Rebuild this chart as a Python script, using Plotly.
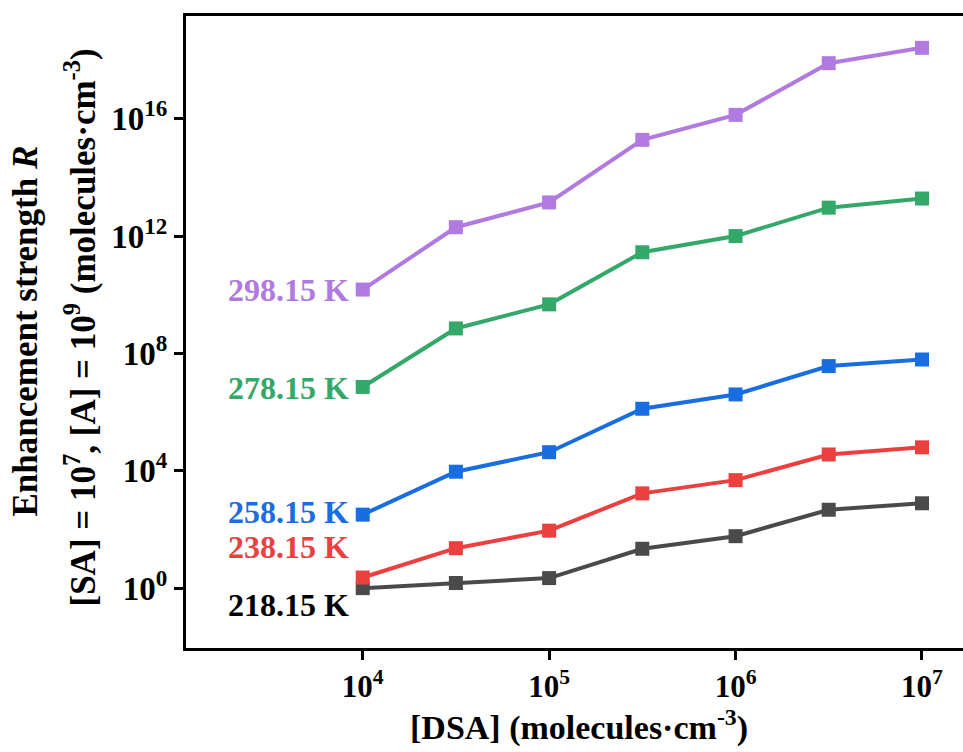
import plotly.graph_objects as go
import math

dsa = [1e4, 3.16e4, 1e5, 3.16e5, 1e6, 3.16e6, 1e7]

temps = ["218.15 K", "238.15 K", "258.15 K", "278.15 K", "298.15 K"]
r_218 = [1.0, 1.5, 2.2, 22, 59, 4.7e2, 7.8e2]
r_238 = [2.3, 23, 91, 1.7e3, 4.8e3, 3.6e4, 6.3e4]
r_258 = [3.2e2, 9.3e3, 4.3e4, 1.3e6, 4.0e6, 3.7e7, 6.2e7]
r_278 = [7.2e6, 7.1e8, 4.7e9, 2.8e11, 1.0e12, 9.3e12, 1.9e13]
r_298 = [1.5e10, 2.0e12, 1.4e13, 1.9e15, 1.35e16, 7.8e17, 2.6e18]

series = [r_218, r_238, r_258, r_278, r_298]
line_colors = ["#4A4A4A", "#EC4040", "#186EE0", "#34A868", "#B07AE0"]
label_colors = ["#000000", "#EC4040", "#186EE0", "#34A868", "#B07AE0"]
label_yshift = [-17, 31, 3, -1, 0]

FONT = "Liberation Serif, Times New Roman, serif"

fig = go.Figure()
for name, vals, c in zip(temps, series, line_colors):
    fig.add_trace(go.Scatter(
        x=dsa, y=vals, mode="lines+markers", name=name,
        line=dict(color=c, width=4),
        marker=dict(symbol="square", size=14, color=c),
        showlegend=False,
    ))

annotations = []
for name, vals, c, ys in zip(temps, series, label_colors, label_yshift):
    annotations.append(dict(
        x=math.log10(dsa[0]), y=math.log10(vals[0]), xref="x", yref="y",
        text=name, showarrow=False, xanchor="right", yanchor="middle",
        xshift=-12, yshift=ys,
        font=dict(family=FONT, size=32, color=c, weight="bold"),
    ))

# axis titles
annotations.append(dict(
    x=(26 - 186) / 777, y=(648 - 331) / 633, xref="paper", yref="paper",
    text="Enhancement strength <i>R</i>", textangle=-90, showarrow=False,
    xanchor="center", yanchor="middle",
    font=dict(family=FONT, size=35, color="black", weight="bold"),
))
annotations.append(dict(
    x=(81 - 186) / 777, y=(648 - 327) / 633, xref="paper", yref="paper",
    text="[SA] = 10<sup>7</sup>, [A] = 10<sup>9</sup> (molecules·cm<sup>-3</sup>)",
    textangle=-90, showarrow=False, xanchor="center", yanchor="middle",
    font=dict(family=FONT, size=35, color="black", weight="bold"),
))
annotations.append(dict(
    x=(579 - 186) / 777, y=(648 - 726) / 633, xref="paper", yref="paper",
    text="[DSA] (molecules·cm<sup>-3</sup>)", showarrow=False,
    xanchor="center", yanchor="middle",
    font=dict(family=FONT, size=34, color="black", weight="bold"),
))

fig.update_layout(
    width=963, height=752,
    margin=dict(l=186, r=0, t=16, b=104),
    plot_bgcolor="white", paper_bgcolor="white",
    annotations=annotations,
    xaxis=dict(
        type="log", range=[3.052, 7.22],
        tickvals=[1e4, 1e5, 1e6, 1e7], ticktext=["10<sup>4</sup>", "10<sup>5</sup>", "10<sup>6</sup>", "10<sup>7</sup>"],
        ticks="outside", ticklen=9, tickwidth=3, tickcolor="black",
        showline=True, linewidth=3, linecolor="black", mirror=True,
        showgrid=False, zeroline=False,
        tickfont=dict(family=FONT, size=31, color="black", weight="bold"),
    ),
    yaxis=dict(
        type="log", range=[-2.04, 19.5],
        tickvals=[1e0, 1e4, 1e8, 1e12, 1e16],
        ticktext=["10<sup>0</sup>", "10<sup>4</sup>", "10<sup>8</sup>", "10<sup>12</sup>", "10<sup>16</sup>"],
        ticks="outside", ticklen=9, tickwidth=3, tickcolor="black",
        showline=True, linewidth=3, linecolor="black", mirror=False,
        showgrid=False, zeroline=False,
        tickfont=dict(family=FONT, size=33, color="black", weight="bold"),
    ),
)

fig.write_html("out.html")
